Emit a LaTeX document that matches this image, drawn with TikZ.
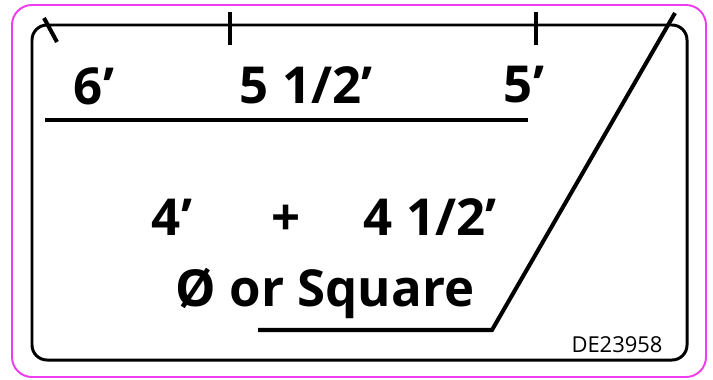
\documentclass[tikz,border=0pt]{standalone}
\usepackage{fontspec}
\setmainfont{Open Sans}
\definecolor{labelpink}{RGB}{238,60,238}

\begin{document}
\begin{tikzpicture}[
  x=0.02cm,y=-0.02cm,
  big/.style={font=\fontsize{29}{34}\selectfont\bfseries,inner sep=0pt,anchor=base},
  small/.style={font=\fontsize{12.5}{14}\selectfont,inner sep=0pt,anchor=base},
  rule/.style={line width=2.3pt},
  dimtick/.style={line width=2.3pt}
]
\useasboundingbox (0,0) rectangle (713,379);

% label outline
\draw[labelpink,line width=1.1pt,rounded corners=0.4cm] (12,5) rectangle (706,377);
\draw[line width=1.7pt,rounded corners=0.3cm] (32,25) rectangle (687,360);

% ticks on the top edge
\draw[dimtick] (44,18) -- (57,42);
\draw[dimtick] (230,12) -- (230,45);
\draw[dimtick] (536,12) -- (536,45);

\node[big] (six) at (94,104) {6’};
\node[big] (fivehalf) at (306,103) {5 1/2’};
\node[big] (five) at (524,102) {5’};
\draw[rule] (45,120) -- (528,120);

\node[big] (four) at (172,235) {4’};
\node[big] (plus) at (286,235) {+};
\node[big] (fourhalf) at (430,235) {4 1/2’};
\node[big] (shape) at (325,306) {Ø or Square};

% cut line
\coordinate (cuttop) at (675,13);
\coordinate (cutcorner) at (492,330);
\coordinate (cutend) at (258,330);
\draw[rule] (cuttop) -- (cutcorner) -- (cutend);

\node[small] (code) at (617,352) {DE23958};
\end{tikzpicture}
\end{document}
